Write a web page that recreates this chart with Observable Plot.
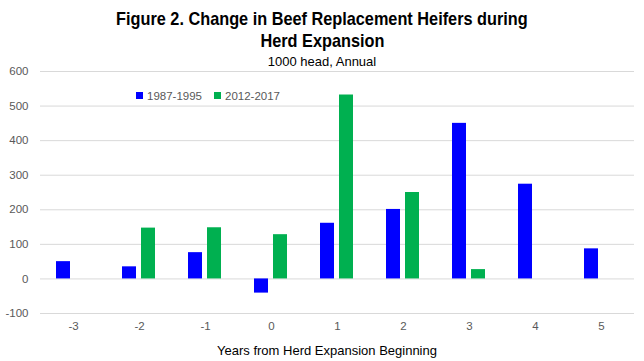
<!DOCTYPE html>
<html>
<head>
<meta charset="utf-8">
<script src="https://cdn.jsdelivr.net/npm/d3@7"></script>
<script src="https://cdn.jsdelivr.net/npm/@observablehq/plot@0.6"></script>
<style>
  html, body { margin: 0; padding: 0; background: #fff; }
  #wrap { position: relative; width: 644px; height: 361px; overflow: hidden; font-family: "Liberation Sans", Arial, sans-serif; }
  #title { position: absolute; left: 0; width: 644px; top: 8px; text-align: center; font-family: "Liberation Sans", Arial, sans-serif; font-weight: bold; font-size: 18.5px; line-height: 22px; color: #000; }
  #title span { display: inline-block; transform: scaleX(0.88); transform-origin: center; white-space: nowrap; }
  #sub { position: absolute; left: 0; width: 644px; top: 54px; text-align: center; font-size: 13px; color: #000; }
  #legend { position: absolute; left: 136px; top: 90px; font-size: 11.5px; color: #595959; display: flex; gap: 12px; }
  #legend span.sw { display: inline-block; width: 7px; height: 7px; margin-right: 4px; vertical-align: middle; position: relative; top: -1px; }
  #xtitle { position: absolute; left: 0; width: 654px; top: 343px; text-align: center; font-size: 13px; color: #000; }
</style>
</head>
<body>
<div id="wrap">
  <div id="chart"></div>
  <div id="title"><span>Figure 2. Change in Beef Replacement Heifers during</span><br><span>Herd Expansion</span></div>
  <div id="sub"><span>1000 head, Annual</span></div>
  <div id="legend"></div>
  <div id="xtitle"><span>Years from Herd Expansion Beginning</span></div>
</div>
<script>
const years = [-3, -2, -1, 0, 1, 2, 3, 4, 5];
const seriesNames = ["1987-1995", "2012-2017"];
const values1987 = [50, 35, 76, -41, 161, 201, 450, 274, 87];
const values2012 = [null, 147, 148, 128, 532, 250, 27, null, null];
const colors = ["#0000ff", "#00b050"];
const yTicks = [-100, 0, 100, 200, 300, 400, 500, 600];

const data = [];
years.forEach((yr, i) => {
  if (values1987[i] != null) data.push({year: yr, series: seriesNames[0], value: values1987[i]});
  if (values2012[i] != null) data.push({year: yr, series: seriesNames[1], value: values2012[i]});
});

const fmt = d => String(d);

const chart = Plot.plot({
  width: 644,
  height: 361,
  marginTop: 71,
  marginBottom: 48,
  marginLeft: 36,
  marginRight: 6,
  style: {fontFamily: "Liberation Sans, Arial, sans-serif", fontSize: "11.5px", color: "#595959", background: "#fff"},
  fx: {domain: years, padding: 0, label: null, axis: null},
  x: {domain: seriesNames, paddingInner: 0.25, paddingOuter: 0.85, axis: null},
  y: {domain: [-100, 600], label: null},
  color: {domain: seriesNames, range: colors},
  marks: [
    Plot.gridY(yTicks, {stroke: "#d9d9d9", strokeOpacity: 1, strokeWidth: 1}),
    Plot.axisY(yTicks, {tickSize: 0, tickPadding: 12, label: null, fill: "#595959", tickFormat: fmt}),
    Plot.axisFx({anchor: "bottom", tickSize: 0, tickPadding: 8, label: null, fill: "#595959", tickFormat: fmt}),
    Plot.barY(data, {fx: "year", x: "series", y: "value", fill: "series"})
  ]
});
document.getElementById("chart").appendChild(chart);

const leg = document.getElementById("legend");
seriesNames.forEach((s, i) => {
  const d = document.createElement("div");
  d.innerHTML = `<span class="sw" style="background:${colors[i]}"></span>${s}`;
  leg.appendChild(d);
});
</script>
</body>
</html>
